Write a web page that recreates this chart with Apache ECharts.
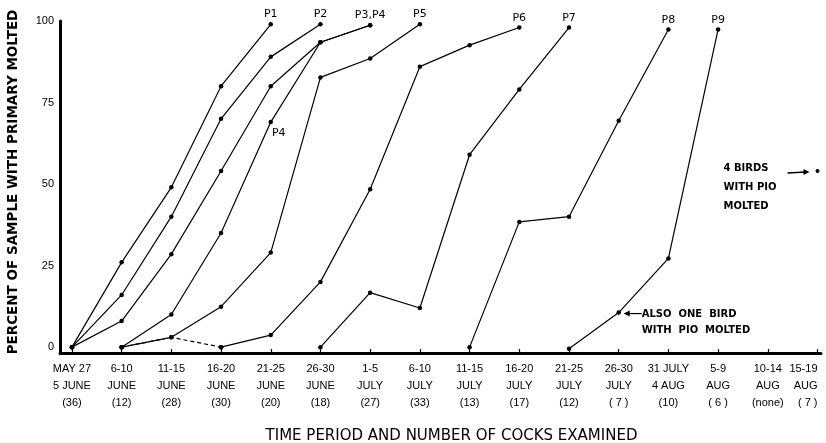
<!DOCTYPE html>
<html><head><meta charset="utf-8">
<script src="https://cdn.jsdelivr.net/npm/echarts@6/dist/echarts.min.js"></script>
<style>html,body{margin:0;padding:0;background:#fff}#c{width:826px;height:443px}</style>
</head><body><div id="c"></div>
<script>
// ---- data ----
const periodStart = ['MAY 27','6-10','11-15','16-20','21-25','26-30','1-5','6-10','11-15','16-20','21-25','26-30','31 JULY','5-9','10-14','15-19'];
const periodMonth = ['5 JUNE','JUNE','JUNE','JUNE','JUNE','JUNE','JULY','JULY','JULY','JULY','JULY','JULY','4 AUG','AUG','AUG','AUG'];
const cocksExamined = ['(36)','(12)','(28)','(30)','(20)','(18)','(27)','(33)','(13)','(17)','(12)','( 7 )','(10)','( 6 )','(none)','( 7 )'];
const yTicks = [0, 25, 50, 75, 100];

const P1 = [0, 26, 49, 80, 99];
const P2 = [0, 16, 40, 70, 89, 99];
const P3 = [0, 8, 28.5, 54, 80, 93.5, 98.7];
const P4 = [null, 0, 10, 35, 69, 93.5, 98.7];
const P5 = [null, 0, 3, 12.4, 29, 82.7, 88.5, 99];
const P6 = [null, 0, 3, 0, 3.7, 20, 48.4, 86, 92.6, 98];
const P7 = [null, null, null, null, null, 0, 16.7, 12, 59, 79, 98];
const P8 = [null, null, null, null, null, null, null, null, 0, 38.4, 40, 69.4, 97.4];
const P9 = [null, null, null, null, null, null, null, null, null, null, -0.5, 10.6, 27.2, 97.4];
const P10 = [null, null, null, null, null, null, null, null, null, null, null, null, null, null, null, 54];
const P6dashedUntil = 3;
const P4midLabelAt = 4;

// ---- chart ----
const chart = echarts.init(document.getElementById('c'));
const idx = periodStart.map((_, i) => i);
const lblFont = { color: '#000', fontFamily: 'DejaVu Sans', fontSize: 11 };

function pts(arr, from, to, labelText) {
  const out = [];
  arr.forEach((v, i) => {
    if (v == null) return;
    if (from != null && i < from) return;
    if (to != null && i > to) return;
    out.push([i, v]);
  });
  if (labelText) {
    const last = out.length - 1;
    out[last] = { value: out[last], label: Object.assign({ show: true, formatter: labelText, position: 'top', distance: 2 }, lblFont) };
  }
  return out;
}

function lineSeries(name, data, dashed) {
  return {
    name, type: 'line', data,
    symbol: 'circle', symbolSize: 4.5,
    itemStyle: { color: '#000' },
    lineStyle: { color: '#000', width: 1.2, type: dashed ? [4, 3] : 'solid' },
    label: Object.assign({ show: false }, lblFont),
    animation: false, z: dashed ? 1 : 2
  };
}

const p4data = pts(P4, null, null).map(d =>
  d[0] === P4midLabelAt
    ? { value: d, label: Object.assign({ show: true, formatter: 'P4', position: 'bottom', distance: 3, offset: [8, 0] }, lblFont) }
    : d);

const series = [
  lineSeries('P1', pts(P1, null, null, 'P1')),
  lineSeries('P2', pts(P2, null, null, 'P2')),
  lineSeries('P3', pts(P3, null, null, 'P3,P4')),
  lineSeries('P4', p4data),
  lineSeries('P5', pts(P5, null, null, 'P5')),
  lineSeries('P6 early', pts(P6, null, P6dashedUntil), true),
  lineSeries('P6', pts(P6, P6dashedUntil, null, 'P6')),
  lineSeries('P7', pts(P7, null, null, 'P7')),
  lineSeries('P8', pts(P8, null, null, 'P8')),
  lineSeries('P9', pts(P9, null, null, 'P9')),
  Object.assign(lineSeries('P10', pts(P10, null, null)), { symbolSize: 4 })
];

chart.setOption({
  animation: false,
  backgroundColor: '#fff',
  grid: { left: 60, right: 5, top: 21, bottom: 90, containLabel: false, outerBoundsMode: 'none' },
  xAxis: {
    type: 'value', min: -0.24, max: 15.07,
    axisLine: { show: true, onZero: false, lineStyle: { color: '#000', width: 3 } },
    axisTick: { show: true, customValues: idx, inside: true, length: 4, lineStyle: { color: '#000', width: 1.2 } },
    axisLabel: {
      customValues: idx,
      formatter: v => periodStart[v] + '\n' + periodMonth[v] + '\n' + cocksExamined[v],
      color: '#000', fontFamily: 'Liberation Sans', fontSize: 11, lineHeight: 17, margin: 7,
      alignMaxLabel: 'right'
    },
    splitLine: { show: false },
    name: 'TIME PERIOD AND NUMBER OF COCKS EXAMINED',
    nameLocation: 'middle', nameGap: 76,
    nameTextStyle: { color: '#000', fontFamily: 'DejaVu Sans', fontSize: 15, padding: [0, 0, 0, 22] }
  },
  yAxis: {
    type: 'value', min: -1.8, max: 100,
    axisLine: { show: true, onZero: false, lineStyle: { color: '#000', width: 3 } },
    axisTick: { show: false },
    axisLabel: { customValues: yTicks, color: '#000', fontFamily: 'Liberation Sans', fontSize: 11, margin: 6 },
    splitLine: { show: false },
    name: 'PERCENT OF SAMPLE WITH PRIMARY MOLTED',
    nameLocation: 'middle', nameGap: 40, nameRotate: 90,
    nameTextStyle: { color: '#000', fontFamily: 'DejaVu Sans', fontWeight: 'bold', fontSize: 13.5, padding: [0, 0, 0, 10] }
  },
  series
});

// annotations anchored to data points
const a = chart.convertToPixel({ gridIndex: 0 }, [15, P10[15]]);
const b = chart.convertToPixel({ gridIndex: 0 }, [11, P9[11]]);
const annFont = 'bold 10px "DejaVu Sans"';
chart.setOption({
  graphic: [
    { type: 'line', shape: { x1: a[0] - 30, y1: a[1] + 2, x2: a[0] - 12, y2: a[1] + 1 }, style: { stroke: '#000', lineWidth: 1.4 } },
    { type: 'polygon', shape: { points: [[a[0] - 8, a[1] + 1], [a[0] - 14, a[1] - 2], [a[0] - 14, a[1] + 4]] }, style: { fill: '#000' } },
    { type: 'text', x: a[0] - 94, y: a[1] - 12, style: { text: '4 BIRDS\nWITH PIO\nMOLTED', font: annFont, fill: '#000', lineHeight: 19, verticalAlign: 'top' } },
    { type: 'line', shape: { x1: b[0] + 23, y1: b[1] + 1, x2: b[0] + 9, y2: b[1] + 1 }, style: { stroke: '#000', lineWidth: 1.2 } },
    { type: 'polygon', shape: { points: [[b[0] + 5, b[1] + 1], [b[0] + 11, b[1] - 2], [b[0] + 11, b[1] + 4]] }, style: { fill: '#000' } },
    { type: 'text', x: b[0] + 23, y: b[1] - 6, style: { text: 'ALSO  ONE  BIRD\nWITH  PIO  MOLTED', font: annFont, fill: '#000', lineHeight: 16, verticalAlign: 'top' } }
  ]
});
</script>
</body></html>
